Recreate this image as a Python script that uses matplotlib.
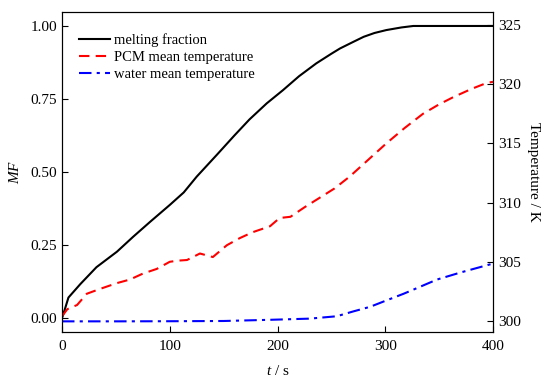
import numpy as np
import matplotlib.pyplot as plt

plt.rcParams['font.family'] = ['Liberation Serif', 'DejaVu Serif']
plt.rcParams['mathtext.fontset'] = 'custom'
plt.rcParams['mathtext.it'] = 'Liberation Serif:italic'
plt.rcParams['mathtext.rm'] = 'Liberation Serif'

# melting fraction
t_mf = [0, 1, 6, 17, 32, 51, 66, 82, 100, 113, 125, 144, 160, 174, 190, 205, 220, 236, 250, 258, 270, 280, 290, 301, 315, 326, 340, 400]
mf = [0.0, 0.01, 0.07, 0.116, 0.174, 0.227, 0.278, 0.33, 0.387, 0.43, 0.484, 0.56, 0.625, 0.68, 0.735, 0.78, 0.828, 0.872, 0.905, 0.923, 0.945, 0.963, 0.976, 0.986, 0.995, 1.0, 1.0, 1.0]

# PCM mean temperature
t_pcm = [0, 5, 14, 23, 35, 51, 63, 75, 88, 100, 108, 116, 128, 140, 153, 165, 177, 193, 202, 212, 225, 239, 253, 267, 284, 301, 318, 335, 350, 363, 380, 394, 400]
pcm = [300.4, 301.0, 301.35, 302.3, 302.7, 303.2, 303.5, 304.0, 304.4, 305.0, 305.1, 305.15, 305.7, 305.4, 306.4, 307.0, 307.5, 308.0, 308.7, 308.8, 309.6, 310.4, 311.2, 312.2, 313.6, 315.0, 316.3, 317.5, 318.3, 318.9, 319.6, 320.1, 320.2]

# water mean temperature
t_w = [0, 50, 100, 150, 193, 230, 255, 270, 286, 300, 317, 330, 348, 370, 394, 400]
water = [299.97, 299.97, 299.98, 300.0, 300.1, 300.2, 300.4, 300.8, 301.2, 301.7, 302.3, 302.8, 303.5, 304.1, 304.7, 304.85]

fig = plt.figure(figsize=(5.5, 3.81), dpi=100)
ax = fig.add_axes([0.1127, 0.1286, 0.7837, 0.84])
ax2 = ax.twinx()

l1, = ax.plot(t_mf, mf, color='black', lw=1.5, label='melting fraction')
l2, = ax2.plot(t_pcm, pcm, color='red', lw=1.5, dashes=(5, 3), label='PCM mean temperature')
l3, = ax2.plot(t_w, water, color='blue', lw=1.5, dashes=(6, 2.5, 1.5, 2.5), label='water mean temperature')

ax.set_xlim(0, 400)
ax.set_ylim(-0.048, 1.048)
ax2.set_ylim(299.07, 326.1)
ax.set_xticks([0, 100, 200, 300, 400])
ax.set_yticks([0, 0.25, 0.5, 0.75, 1.0])
ax.set_yticklabels(['0.00', '0.25', '0.50', '0.75', '1.00'])
ax2.set_yticks([300, 305, 310, 315, 320, 325])

ax.tick_params(axis='both', direction='in', labelsize=11, length=4, top=False)
ax.tick_params(axis='x', pad=6)
ax2.tick_params(axis='y', direction='in', labelsize=11, length=4)

ax.set_xlabel('$t$ / s', fontsize=11, labelpad=8)
ax.set_ylabel('$MF$', fontsize=11, labelpad=6)
ax2.set_ylabel('Temperature / K', fontsize=11, rotation=270, labelpad=14)

ax.legend(handles=[l1, l2, l3], loc='upper left', bbox_to_anchor=(0.026, 0.952),
          frameon=False, fontsize=10.5, handlelength=2.1, handletextpad=0.3,
          borderaxespad=0, labelspacing=0.25)

fig.savefig('out.png', dpi=100)
